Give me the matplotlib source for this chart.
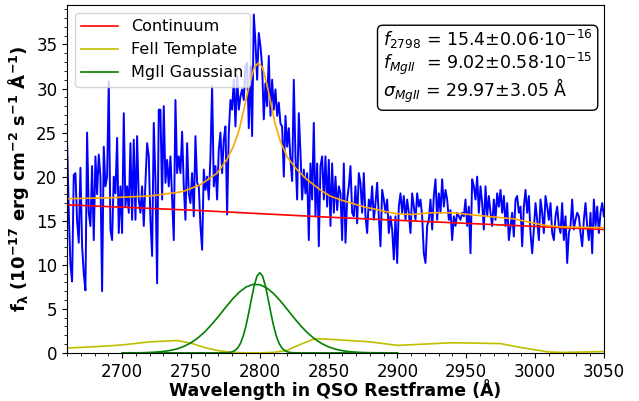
import numpy as np
import matplotlib
matplotlib.use("Agg")
import matplotlib.pyplot as plt
from matplotlib.ticker import MultipleLocator

# observed spectrum (flux in 1e-17 erg/cm2/s/A), evenly sampled from 2660 to 3050 A
flux = [
    24.0, 16.0, 10.0, 8.1, 20.2, 20.4, 15.0, 12.5, 21.0, 12.1, 9.0, 7.1, 25.0, 15.9,
    14.4, 21.2, 12.8, 22.3, 18.0, 22.5, 20.0, 7.0, 23.4, 18.9, 20.0, 30.8, 14.0, 12.8,
    20.0, 18.1, 24.4, 13.6, 18.9, 13.6, 27.2, 16.6, 18.9, 15.9, 23.8, 15.1, 24.2, 15.1,
    24.6, 17.4, 15.9, 18.9, 14.4, 19.3, 23.8, 22.3, 15.0, 11.0, 26.1, 19.6, 7.9, 27.6,
    # 2727 - 2792
    27.6, 17.4, 28.0, 19.3, 21.9, 18.9, 22.3, 17.4, 12.8, 28.7, 20.4, 22.3, 20.4, 25.1,
    18.9, 15.1, 23.8, 18.1, 17.0, 20.4, 15.5, 24.6, 19.3, 18.9, 14.4, 11.7, 20.8, 18.5,
    20.0, 17.4, 22.3, 30.3, 18.9, 21.2, 17.4, 23.1, 25.0, 20.4, 24.2, 25.7, 15.7, 25.0,
    28.7, 27.6, 31.0, 25.7, 31.4, 27.6, 29.1, 29.9, 28.7, 32.5, 32.9, 25.5,
    # 2793 - 2857
    32.5, 24.6, 38.4, 35.2, 31.0, 36.3, 34.8, 32.5, 26.5, 30.6, 28.0, 33.7, 26.9, 31.0,
    27.6, 29.9, 26.9, 28.4, 26.0, 25.7, 20.0, 26.9, 23.4, 25.5, 21.9, 19.5, 31.0,
    22.3, 17.4, 27.2, 22.7, 17.4, 20.8, 18.1, 20.4, 12.8, 21.5, 17.4, 26.1, 15.5, 21.5,
    12.1, 21.2, 22.3, 17.4, 22.3, 16.6, 21.9, 14.4, 21.5, 15.9, 20.0, 16.2, 18.9,
    # 2858 - 2922
    18.1, 12.8, 21.5, 12.5, 17.4, 18.9, 21.2, 15.9, 15.5, 18.9, 14.7, 20.4, 19.3, 15.9,
    20.4, 15.5, 13.6, 17.4, 16.2, 18.9, 15.1, 17.0, 19.3, 15.5, 12.1, 18.5, 17.4, 15.9,
    17.4, 13.6, 15.5, 14.0, 10.6, 15.5, 10.2, 16.6, 18.1, 15.9, 17.8, 15.1, 17.4, 15.9,
    13.6, 18.1, 16.6, 15.1, 18.1, 16.6, 17.4, 15.5, 11.3, 10.2, 14.4, 15.1,
    # 2923 - 2987
    17.4, 14.0, 17.8, 19.7, 15.1, 18.1, 15.9, 19.7, 16.6, 18.5, 17.4, 15.1, 16.2, 12.8,
    15.5, 14.4, 15.9, 15.5, 15.1, 15.9, 15.5, 17.4, 14.4, 16.6, 11.3, 19.7, 18.9, 17.4,
    20.0, 15.9, 18.9, 17.0, 14.0, 18.9, 15.5, 17.8, 15.9, 14.4, 17.4, 15.1, 18.1, 16.6,
    18.5, 15.9, 17.8, 14.4, 17.0, 12.8, 14.4, 15.9, 13.2, 17.4, 17.8, 15.9,
    # 2988 - 3050
    16.6, 12.1, 16.6, 18.5, 15.9, 17.8, 13.6, 11.3, 14.0, 17.0, 15.1, 12.8, 17.4, 15.9,
    13.6, 17.8, 16.6, 15.1, 17.0, 13.6, 12.8, 15.5, 16.6, 14.4, 13.6, 17.0, 12.8, 15.5,
    10.2, 13.6, 14.4, 17.4, 14.0, 15.1, 15.9, 15.5, 13.6, 12.1, 15.1, 17.0, 14.4, 12.8,
    15.9, 11.3, 17.4, 14.4, 16.6, 13.6, 15.9, 17.0, 15.5,
]
wave = np.linspace(2660, 3050, len(flux))

# power-law continuum
cont_wave = [2660, 2750, 2850, 2950, 3050]
cont_flux = [16.8, 16.2, 15.4, 14.7, 14.0]

# FeII template
fe_wave = [2660, 2680, 2700, 2720, 2740, 2750, 2760, 2770, 2780, 2790, 2800, 2810,
           2820, 2830, 2840, 2850, 2860, 2880, 2900, 2920, 2940, 2960, 2975, 2990,
           3000, 3010, 3020, 3035, 3050]
fe_flux = [0.55, 0.7, 0.9, 1.25, 1.4, 1.1, 0.6, 0.25, 0.05, 0.0, 0.0, 0.05,
           0.3, 1.0, 1.6, 1.55, 1.45, 1.25, 0.85, 1.0, 1.15, 1.1, 1.05, 0.6,
           0.35, 0.1, 0.05, 0.1, 0.15]

# broad MgII component
broad_wave = list(range(2700, 2905, 5))
broad_flux = [0.00, 0.01, 0.01, 0.02, 0.05, 0.09, 0.16, 0.28, 0.46, 0.75, 1.14, 1.69,
              2.38, 3.21, 4.14, 5.13, 6.07, 6.88, 7.47, 7.77, 7.74, 7.38, 6.74, 5.89,
              4.93, 3.95, 3.03, 2.23, 1.57, 1.06, 0.68, 0.42, 0.25, 0.14, 0.08, 0.04,
              0.02, 0.01, 0.01, 0.00, 0.00]

# narrow MgII component
narrow_wave = [2700, 2770, 2772, 2774, 2776, 2778, 2780, 2782, 2784, 2786, 2788, 2790,
               2792, 2794, 2796, 2798, 2800, 2802, 2804, 2806, 2808, 2810, 2812, 2814,
               2816, 2818, 2820, 2822, 2824, 2826, 2828, 2830, 2900]
narrow_flux = [0.0, 0.0, 0.002, 0.006, 0.02, 0.05, 0.12, 0.27, 0.57, 1.09, 1.92, 3.09,
               4.56, 6.17, 7.66, 8.72, 9.1, 8.72, 7.66, 6.17, 4.56, 3.09, 1.92, 1.09,
               0.57, 0.27, 0.12, 0.05, 0.02, 0.006, 0.002, 0.0, 0.0]

# total fit
fit_wave = [2660, 2690, 2720, 2744, 2757, 2769, 2776, 2781, 2785, 2789, 2793, 2796,
            2799, 2802, 2805, 2808, 2811, 2815, 2820, 2827, 2834, 2844, 2851, 2860,
            2875, 2899, 2910, 2925, 2940, 2965, 2985, 3006, 3018, 3050]
fit_flux = [17.5, 17.6, 17.8, 18.3, 19.1, 20.4, 21.9, 23.5, 25.3, 28.0, 30.8, 32.4,
            32.9, 32.4, 30.6, 28.4, 26.1, 24.0, 22.2, 20.8, 19.7, 18.5, 17.8, 17.3,
            16.6, 15.8, 15.7, 15.9, 15.9, 15.5, 15.2, 14.5, 14.3, 14.2]

fig = plt.figure(figsize=(6.39, 4.01), dpi=100)
ax = fig.add_axes([0.105, 0.12, 0.84, 0.868])

ax.plot(wave, flux, color="b", lw=1.4)
ax.plot(cont_wave, cont_flux, color="r", lw=1.2, label="Continuum")
ax.plot(fe_wave, fe_flux, color="y", lw=1.2, label="FeII Template")
ax.plot(broad_wave, broad_flux, color="g", lw=1.2, label="MgII Gaussian")
ax.plot(narrow_wave, narrow_flux, color="g", lw=1.2)
ax.plot(fit_wave, fit_flux, color="orange", lw=1.2)

ax.set_xlim(2660, 3050)
ax.set_ylim(0, 39.5)
ax.xaxis.set_major_locator(MultipleLocator(50))
ax.xaxis.set_minor_locator(MultipleLocator(10))
ax.yaxis.set_major_locator(MultipleLocator(5))
ax.yaxis.set_minor_locator(MultipleLocator(1))
ax.tick_params(labelsize=12)

ax.set_xlabel("Wavelength in QSO Restframe (Å)", fontsize=12.5, fontweight="bold", labelpad=-1)
ax.set_ylabel(r"$\mathbf{f_{\lambda}}$ (10$^{\mathbf{-17}}$ erg cm$^{\mathbf{-2}}$ "
              r"s$^{\mathbf{-1}}$ Å$^{\mathbf{-1}}$)", fontsize=13, fontweight="bold")

ax.legend(loc="upper left", fontsize=11.5, handlelength=2.3)

txt = (r"$f_{2798}$ = 15.4±0.06·10$^{-16}$" + "\n"
       r"$f_{MgII}$  = 9.02±0.58·10$^{-15}$" + "\n"
       r"$\sigma_{MgII}$ = 29.97±3.05 Å")
ax.text(0.588, 0.935, txt, transform=ax.transAxes, fontsize=12.5, va="top", ha="left",
        linespacing=1.0,
        bbox=dict(boxstyle="round", facecolor="white", edgecolor="black"))

fig.savefig("out.png", dpi=100)
